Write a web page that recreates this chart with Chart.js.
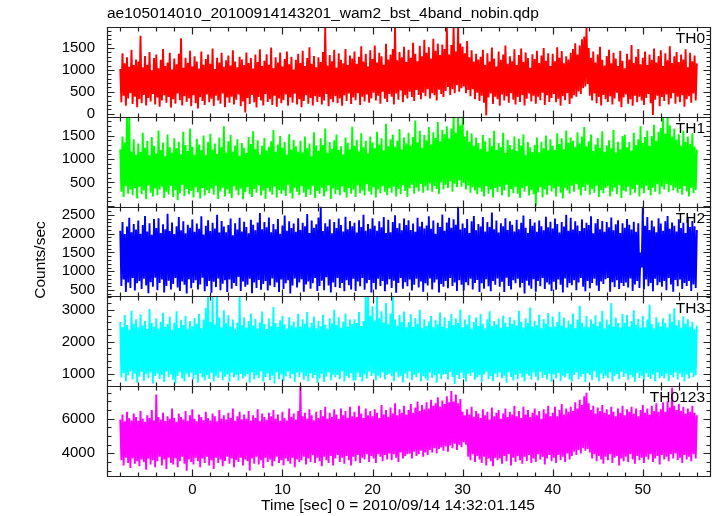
<!DOCTYPE html>
<html><head><meta charset="utf-8">
<script src="https://cdn.jsdelivr.net/npm/chart.js@4.4.1/dist/chart.umd.min.js"></script>
<style>html,body{margin:0;padding:0;background:#fff;}#c{display:block;}</style>
</head><body>
<canvas id="c" width="717" height="516"></canvas>
<script>
const chartTitle = "ae105014010_20100914143201_wam2_bst_4band_nobin.qdp";
const xAxisTitle = "Time [sec] 0 = 2010/09/14 14:32:01.145";
const yAxisTitle = "Counts/sec";
const panelLabels = ["TH0", "TH1", "TH2", "TH3", "TH0123"];
const tStart = -8, tStep = 0.125;   // light-curve bins (one row below = 2 s)

const th0 = [
1020,260,1380,410,1150,180,1290,350,1070,470,1460,220,1110,390,1240,150,
1190,330,1780,240,1060,430,1320,190,1120,360,1410,280,990,450,1270,210,
1350,370,1040,160,1230,300,1480,420,1090,250,1170,380,1390,140,1010,330,
1260,230,1130,460,1370,310,1720,190,1050,400,1280,270,1160,350,1440,170,
1080,420,1310,240,1190,120,1030,380,1420,290,1120,200,1250,440,1350,260,
1140,340,1490,180,1020,410,1280,300,1170,230,1390,460,1070,150,1220,370,
1330,250,1100,390,1450,210,1190,320,1060,440,1300,170,1240,280,1110,30,
1400,360,1160,220,1270,430,1030,260,1350,140,1180,380,1470,300,1090,190,
1210,450,1360,270,1120,330,1510,200,1040,410,1290,160,1170,350,1400,240,
1080,310,1250,440,1420,180,1130,370,1300,250,1010,460,1230,210,1370,330,
1160,150,1440,290,1090,420,1270,230,1520,360,1140,190,1320,400,1060,270,
1290,380,1180,210,1410,300,1960,450,1100,170,1340,330,1200,260,1460,400,
1050,240,1380,350,1230,180,1150,420,1480,290,1110,460,1330,220,1260,370,
1420,310,1140,470,1300,200,1540,390,1190,280,1370,440,1080,250,1450,350,
1250,480,1560,300,1170,410,1390,230,1310,500,1120,340,1600,270,1240,450,
1350,390,1480,210,1980,460,1220,320,1410,530,1290,260,1530,420,1180,350,
1460,500,1280,380,1620,290,1370,540,1200,430,1550,330,1310,480,1690,400,
1390,560,1520,350,1260,470,1710,420,1440,300,1600,550,1340,450,1580,380,
1480,520,1980,610,1350,430,1570,560,1980,470,1420,650,1980,500,1600,580,
1530,620,1380,470,1660,540,1290,400,1450,560,1190,330,1370,480,1240,290,
1300,410,1460,250,1120,-40,1380,370,1190,460,1510,220,1260,390,1080,330,
1420,180,1230,440,1350,300,1560,400,1140,250,1310,470,1200,320,1470,210,
1110,380,1340,270,1490,430,1180,190,1400,340,1270,460,1050,280,1360,410,
1250,230,1440,390,1160,310,1330,480,1500,200,1210,420,1380,270,1090,360,
1370,450,1200,260,1520,340,1280,180,1430,400,1150,310,1310,470,1240,220,
1390,350,1480,420,1610,390,1350,510,1560,450,1700,580,1760,620,1980,680,
1500,410,1280,300,1420,460,1170,240,1350,380,1530,190,1230,430,1100,330,
1320,270,1460,400,1150,210,1390,350,1260,480,1090,280,1440,150,1210,370,
1040,440,1370,230,1240,330,1570,180,1160,410,1300,260,1480,390,1130,300,
1280,200,1420,360,1110,450,1350,240,1230,-30,1490,320,1170,410,1320,170,
1450,380,1090,290,1380,440,1220,210,1540,350,1160,470,1310,230,1410,390,
1180,260,1350,420,1240,160,1470,330,1060,400,1390,250,1200,460,1330,300,
1150];

const th1 = [
1210,300,1480,190,1350,420,1900,260,1900,350,1160,230,1420,380,1090,160,
1330,410,1150,250,1560,330,1240,140,1390,440,1080,280,1470,200,1280,370,
1120,230,1610,350,1190,410,1350,170,1060,300,1520,240,1250,430,1140,190,
1440,340,1230,120,1370,270,1100,450,1580,210,1300,360,1170,250,1650,320,
1260,180,1090,400,1430,290,1310,160,1190,380,1500,220,1080,340,1360,270,
1540,370,1200,240,1330,430,1110,150,1460,310,1250,390,1700,200,1140,350,
1380,260,1510,170,1160,420,1290,330,1420,230,1070,370,1340,140,1240,290,
1130,400,1470,250,1320,190,1590,360,1210,280,1400,440,1100,220,1280,330,
1450,150,1180,380,1260,300,1380,240,1620,410,1150,180,1310,340,1490,260,
1240,330,1360,210,1090,450,1530,270,1200,160,1410,390,1270,300,1160,230,
1390,420,1140,280,1480,190,1230,350,1330,240,1060,430,1570,170,1290,320,
1170,260,1440,390,1300,200,1650,310,1130,440,1360,150,1220,370,1400,250,
1520,340,1190,230,1270,410,1100,290,1460,180,1340,380,1210,260,1690,350,
1280,190,1410,440,1160,270,1550,330,1250,220,1390,460,1120,310,1480,240,
1350,400,1230,180,1580,350,1310,270,1440,420,1180,300,1750,230,1270,380,
1420,280,1520,410,1260,200,1390,360,1640,250,1210,440,1460,320,1330,190,
1560,370,1290,450,1470,260,1820,390,1350,310,1600,470,1240,280,1510,420,
1400,330,1680,480,1310,300,1570,420,1450,360,1790,260,1380,500,1620,350,
1530,450,1700,380,1440,520,1650,300,1900,470,1560,400,1900,540,1720,410,
1900,490,1480,350,1610,430,1370,280,1550,400,1290,330,1460,250,1340,390,
1220,300,1510,200,1380,420,1160,260,1450,350,1270,180,1600,380,1190,290,
1340,410,1250,230,1560,330,1130,450,1410,190,1300,360,1200,270,1480,400,
1170,260,1430,170,1290,380,1520,300,1080,420,1360,220,1250,340,1150,250,
1300,0,1460,290,1140,400,1370,180,1230,350,1500,240,1180,430,1420,310,
1280,370,1190,200,1550,410,1320,280,1440,160,1210,390,1610,330,1350,260,
1460,430,1390,300,1250,470,1570,350,1330,220,1480,400,1680,320,1270,450,
1380,240,1520,360,1170,280,1310,430,1450,190,1240,340,1590,270,1150,380,
1290,420,1400,200,1230,310,1620,390,1140,250,1370,440,1210,170,1490,330,
1520,300,1250,410,1360,230,1180,360,1560,280,1300,450,1420,200,1700,370,
1340,270,1470,430,1610,340,1280,220,1490,390,1730,300,1390,460,1580,250,
1660,410,1900,350,1540,460,1900,290,1720,440,1480,330,1650,390,1410,280,
1530,360,1290,240,1600,420,1370,310,1480,200,1320,380,1550,270,1260,340,
1200];

const th2 = [
2080,610,2310,780,1990,450,2190,700,2420,560,2040,820,2260,490,2110,680,
2350,740,2000,530,2230,800,2470,620,2060,420,2280,710,1970,590,2390,830,
2150,500,2410,690,2020,780,2250,440,2120,610,2530,750,2070,520,2300,660,
1990,820,2200,570,2440,480,2090,730,2330,640,2010,410,2240,790,2160,550,
2380,690,2050,760,2270,520,2130,650,2460,830,1980,470,2210,600,2360,740,
2070,430,2290,720,2140,580,2500,810,2030,500,2340,670,2190,760,2040,450,
2230,780,2400,540,1960,690,2280,610,2110,850,2420,480,2060,730,2320,590,
2180,640,2010,800,2370,420,2240,700,2090,560,2300,770,2550,510,2120,660,
2310,740,2170,490,2430,620,2040,810,2260,580,2120,700,2390,450,2000,780,
2220,530,2480,680,2080,760,2330,410,2150,620,2270,810,2050,570,2410,700,
2100,790,2290,460,2200,650,2520,730,2020,540,2350,680,2160,820,2250,480,
2430,610,2720,750,2070,500,2280,840,2190,620,2380,440,2010,700,2310,580,
2150,820,2400,560,2230,690,2060,470,2450,760,2120,630,2340,520,2200,800,
2290,480,2030,730,2360,600,2180,820,2500,510,2080,680,2260,770,2130,440,
2410,690,2210,520,2080,800,2330,610,2170,740,2440,470,2020,650,2370,790,
2040,560,2310,750,2490,430,2150,690,2280,820,2090,540,2400,710,2230,600,
2360,780,2100,490,2270,640,2050,800,2420,570,2190,730,2320,460,2140,680,
2220,620,2460,810,2130,520,2350,700,2000,780,2290,440,2180,660,2510,590,
2080,740,2300,550,2420,820,2160,610,2380,700,2240,480,2720,760,2110,640,
2270,490,2150,710,2390,630,2020,800,2330,520,2470,690,2090,770,2260,450,
2190,680,2440,540,2060,790,2310,600,2180,470,2560,740,2120,640,2350,810,
2030,590,2280,720,2200,450,2410,830,2100,610,2330,520,2240,760,2060,680,
2370,800,2120,570,2290,690,2480,410,2160,750,2020,620,2390,540,2210,790,
2300,460,2050,740,2350,600,2200,820,2090,530,2450,700,2170,650,2320,480,
2140,720,2400,510,2260,780,2030,640,2310,440,2190,810,2500,570,2080,690,
2420,630,2110,760,2330,500,2220,700,2070,820,2380,590,2150,470,2290,740,
2230,550,2460,690,2010,800,2280,620,2390,480,2120,730,2340,660,2050,790,
2310,820,2170,460,2430,710,2090,580,2250,760,2360,530,2020,690,2280,610,
2160,700,2390,570,2240,810,2110,480,2320,650,2050,740,2280,560,1500,1100,
2720,520,2210,780,2440,600,2100,690,2350,470,2190,800,2040,630,2410,710,
2270,590,2080,740,2330,500,2470,820,2130,650,2300,460,2210,770,2060,600,
2380,780,2150,530,2290,690,2020,610,2450,740,2180,480,2340,650,2200,560,
2100];

const th3 = [
2610,880,2450,1020,2830,760,2520,950,2380,1080,2960,820,2560,1000,2700,720,
2440,910,2850,1060,2500,780,2650,990,2390,860,3020,1040,2580,700,2470,930,
2730,1010,2410,840,2620,960,2900,740,2460,1070,2550,890,2780,980,2380,810,
2590,700,2950,930,2430,1050,2680,850,2520,770,2810,1000,2400,900,2640,1030,
2480,820,2740,960,2560,730,2870,1010,2420,880,2690,790,3050,950,3410,840,
2610,1020,3410,760,2530,940,3410,870,2750,1060,2440,800,2980,910,2570,980,
2820,750,2470,1030,2690,880,2400,960,2590,780,3410,1000,2510,850,2760,920,
2430,990,2640,730,2880,1040,2500,820,2710,950,2420,870,2600,1070,2940,760,
2550,900,2390,1010,2720,800,2480,940,3080,700,2580,1050,2460,830,2670,980,
2800,770,2540,920,2410,1060,2760,850,2500,990,2630,740,2450,1030,2870,890,
2460,1040,2700,810,2560,930,2920,770,2440,1010,2590,860,2780,960,2420,720,
2650,850,2480,1000,2840,740,2530,910,2400,1050,2730,800,2570,970,2990,880,
2520,960,2760,830,2430,1080,2620,760,2880,940,2470,870,2690,1020,2550,790,
2700,800,2580,1030,2920,900,2490,760,2640,980,3410,850,3410,1060,2810,930,
3100,1010,2660,790,3410,940,2720,870,2950,1040,2600,820,3200,960,2540,1000,
2880,920,3410,770,2690,1050,2500,880,2830,940,2620,730,2940,1010,2450,860,
2610,1070,2850,800,2460,960,2740,890,2560,1020,2990,760,2430,930,2700,850,
2490,780,2630,1040,2800,870,2450,950,2680,720,2540,1000,2910,830,2470,970,
2760,990,2420,820,2650,1060,2860,900,2510,680,2720,960,2580,840,3000,1030,
2440,870,2690,760,2530,1000,2830,930,2400,1040,2610,810,2750,880,2490,950,
2860,740,2560,980,2410,1060,2700,830,2950,920,2480,770,2640,1010,2530,890,
2720,1030,2430,860,2810,940,2590,720,2460,1050,2770,900,2550,790,2680,970,
2500,830,2960,1010,2620,880,2440,760,2730,990,2580,940,3060,820,2470,1040,
2650,910,2510,790,2840,1060,2420,870,2700,960,2560,820,2890,1000,2450,750,
2780,980,2470,850,2610,1030,2930,770,2500,940,2750,880,2430,1010,2660,820,
2540,760,2880,960,2420,1050,2680,830,3120,910,2590,990,2470,740,2810,1020,
2450,950,2700,800,2560,1070,2820,880,2490,760,2630,1000,2960,850,2410,940,
2690,870,2530,1040,3200,760,2460,920,2750,990,2580,830,2440,1060,2860,900,
2590,1000,2830,810,2470,960,2640,890,2980,750,2520,1030,2710,870,2440,940,
2800,780,2450,1020,2690,900,3150,840,2550,970,2420,760,2760,1050,2600,860,
2480,930,2730,850,2590,1000,2440,770,2870,960,2620,880,3040,1040,2510,820,
2670,1010,2430,900,2790,760,2560,980,2700,850,2460,1030,2620,890,2390,950,
2500];

const th0123 = [
5950,3600,6250,3300,5850,3750,6400,3450,6050,3150,5900,3700,6300,3400,6100,3550,
5880,3250,6450,3650,6000,3500,5820,3050,6200,3700,6050,3350,6500,3600,5900,3200,
7400,3550,6100,3800,5950,3300,6350,3650,5870,3100,6150,3750,6000,3450,6600,3350,
6050,3700,5830,3200,6300,3550,6100,3800,5960,3400,6450,3000,5880,3650,6200,3500,
6550,3350,6000,3750,5850,3550,6250,3200,6100,3700,5920,3450,6400,3800,6050,3300,
5900,3600,6300,3100,6150,3750,5860,3450,6500,3650,6000,3250,6200,3550,5950,3800,
6350,3400,6050,3700,6600,3200,5880,3600,6150,3500,6400,3750,5970,3300,6250,3650,
6000,3550,6450,3000,5900,3700,6200,3400,6050,3800,6550,3350,5850,3600,6300,3150,
6100,3750,5940,3500,6350,3650,6150,3250,6500,3550,6000,3800,6250,3450,5880,3600,
6400,3300,6050,3700,5900,3550,6600,3400,6100,3750,6300,3200,5960,3650,6450,3500,
7850,3600,6150,3800,6350,3350,6000,3700,6550,3500,6200,3900,5920,3450,6400,3750,
6050,3550,6500,3250,6150,3800,6700,3600,6000,3450,6350,3850,6100,3300,6550,3700,
6250,3900,5980,3500,6600,3750,6200,3400,6450,3850,6050,3600,6700,3300,6150,3800,
6400,3550,6100,3900,6750,3450,6300,3750,6050,3650,6600,3950,6200,3500,6450,3850,
6150,3700,6550,3450,6350,3950,6050,3800,6800,3550,6250,3900,6500,3650,6100,4000,
6650,3600,6300,3950,6900,3750,6200,3500,6550,4050,6350,3700,6750,3850,6250,3950,
6500,4000,6850,3700,6350,4100,6650,3850,7000,3950,6450,4150,6800,3800,6550,4050,
6950,3900,6600,4200,7100,4050,6750,4300,6900,4000,7250,4250,6700,4350,7050,4150,
6850,4400,7300,4100,6950,4450,7600,4300,7000,4550,7400,4200,6900,4500,7150,4350,
6400,4650,6200,4500,6550,3800,6250,3600,6700,3950,6100,3500,6450,3850,6300,3650,
6050,3450,6550,3800,6200,3300,6400,3700,5950,3550,6650,3250,6150,3750,6350,3600,
6500,3700,6000,3400,6300,3850,6600,3550,6100,3950,6400,3300,6250,3750,6750,3500,
6150,3850,6450,3600,6050,3400,6700,3800,6250,3550,6500,3900,6100,3450,6350,3700,
6600,3500,6200,3950,6450,3650,6000,3800,6550,3350,6300,3700,6750,3900,6150,3550,
6350,3750,6700,3450,6150,3900,6500,3600,6850,3800,6250,3500,6600,4000,6400,3650,
6700,3850,6450,4100,6950,3900,6600,4200,7100,4000,6800,4300,7300,4150,7500,4250,
6900,4050,6500,3700,6750,3950,6300,3550,6650,3850,6450,3650,6800,3400,6350,3800,
6550,3600,6250,3950,6700,3450,6400,3750,6150,3850,6600,3300,6350,3700,6750,3550,
6200,3800,6550,3500,6400,3950,6700,3650,6300,3400,6600,3850,6150,3600,6500,3750,
6800,3450,6350,3800,6600,3650,6250,3950,6750,3500,6450,3700,6900,3850,6400,3350,
6550,3900,6950,3650,6400,3800,7000,3550,6650,3950,7800,3700,6750,4000,6500,3600,
6850,3750,6450,3450,6700,3900,6300,3650,6600,3800,6400,3550,6750,3950,6350,3700,
6200];

const seriesList = [th0, th1, th2, th3, th0123];
const seriesColors = ["#ff0000", "#00ff00", "#0000ff", "#00ffff", "#ff00ff"];
const panelIds = ["y0", "y1", "y2", "y3", "y4"];
const yMins = [-70, -15, 333, 612, 2690];
const yMaxs = [1980, 1900, 2720, 3410, 7885];
const yTickVals = [[0, 500, 1000, 1500], [500, 1000, 1500], [500, 1000, 1500, 2000, 2500], [1000, 2000, 3000], [4000, 6000]];
const yMajor = [500, 500, 500, 1000, 2000];
const yMinor = [100, 100, 100, 200, 500];
const xMin = -9.47, xMax = 57.57, xMajor = 10, xMinor = 2;
const xTickVals = [0, 10, 20, 30, 40, 50];

const FONT = '"Liberation Sans", Arial, sans-serif';

const datasets = seriesList.map((arr, k) => ({
  label: panelLabels[k],
  data: arr.map((v, i) => ({ x: tStart + i * tStep, y: v })),
  yAxisID: panelIds[k],
  borderColor: seriesColors[k],
  borderWidth: 1.9,
  borderJoinStyle: 'bevel',
  pointRadius: 0,
  tension: 0,
  fill: false
}));

const scales = {
  x: {
    type: 'linear', min: xMin, max: xMax,
    grid: { display: false, drawTicks: false }, border: { display: false },
    ticks: { padding: 5, color: '#000', maxRotation: 0, autoSkip: false,
             font: { family: FONT, size: 15 }, callback: v => String(v) },
    afterBuildTicks(s) { s.ticks = xTickVals.map(v => ({ value: v })); },
    afterFit(s) { s.height = 40; }
  }
};
panelIds.forEach((id, k) => {
  scales[id] = {
    type: 'linear', position: 'left', stack: 'panels', stackWeight: 1, weight: 5 - k,
    min: yMins[k], max: yMaxs[k],
    grid: { display: false, drawTicks: false }, border: { display: false },
    ticks: { padding: 12, color: '#000', autoSkip: false,
             font: { family: FONT, size: 15 }, callback: v => String(v) },
    afterBuildTicks(s) { s.ticks = yTickVals[k].map(v => ({ value: v })); },
    afterFit(s) { s.width = 107; }
  };
});

const decor = {
  id: 'decor',
  afterDraw(chart) {
    const ctx = chart.ctx, ca = chart.chartArea, xs = chart.scales.x;
    const L = Math.round(ca.left) + 0.5, R = Math.round(ca.right) - 0.5;
    ctx.save();
    ctx.strokeStyle = '#222';
    ctx.lineWidth = 1.2;
    panelIds.forEach((id, k) => {
      const s = chart.scales[id];
      const T = Math.round(s.top) + 0.5, B = Math.round(s.bottom) + 0.5;
      ctx.beginPath();
      ctx.rect(L, T, R - L, B - T);
      const mS = yMinor[k], MS = yMajor[k];
      for (let n = Math.ceil(s.min / mS); n * mS <= s.max; n++) {
        const v = n * mS;
        const y = Math.round(s.getPixelForValue(v)) + 0.5;
        const len = (v % MS === 0) ? 7 : 4;
        ctx.moveTo(L, y); ctx.lineTo(L + len, y);
        ctx.moveTo(R, y); ctx.lineTo(R - len, y);
      }
      for (let n = Math.ceil(xs.min / xMinor); n * xMinor <= xs.max; n++) {
        const t = n * xMinor;
        const x = Math.round(xs.getPixelForValue(t)) + 0.5;
        const len = (t % xMajor === 0) ? 7 : 4;
        ctx.moveTo(x, T); ctx.lineTo(x, T + len);
        ctx.moveTo(x, B); ctx.lineTo(x, B - len);
      }
      ctx.stroke();
      ctx.fillStyle = '#000';
      ctx.font = '15.5px ' + FONT;
      ctx.textAlign = 'right';
      ctx.textBaseline = 'middle';
      ctx.fillText(panelLabels[k], 705, s.top + 12);
    });
    ctx.fillStyle = '#000';
    ctx.font = '15.5px ' + FONT;
    ctx.textAlign = 'left';
    ctx.textBaseline = 'middle';
    ctx.fillText(chartTitle, 107, 14);
    ctx.textAlign = 'center';
    ctx.fillText(xAxisTitle, 398, 506);
    ctx.translate(41, 260);
    ctx.rotate(-Math.PI / 2);
    ctx.fillText(yAxisTitle, 0, 0);
    ctx.restore();
  }
};

new Chart(document.getElementById('c'), {
  type: 'line',
  data: { datasets },
  options: {
    responsive: false, devicePixelRatio: 1, animation: false,
    layout: { padding: { top: 27, right: 6, left: 0, bottom: 0 } },
    plugins: { legend: { display: false }, tooltip: { enabled: false }, title: { display: false } },
    scales
  },
  plugins: [decor]
});
</script>
</body></html>
